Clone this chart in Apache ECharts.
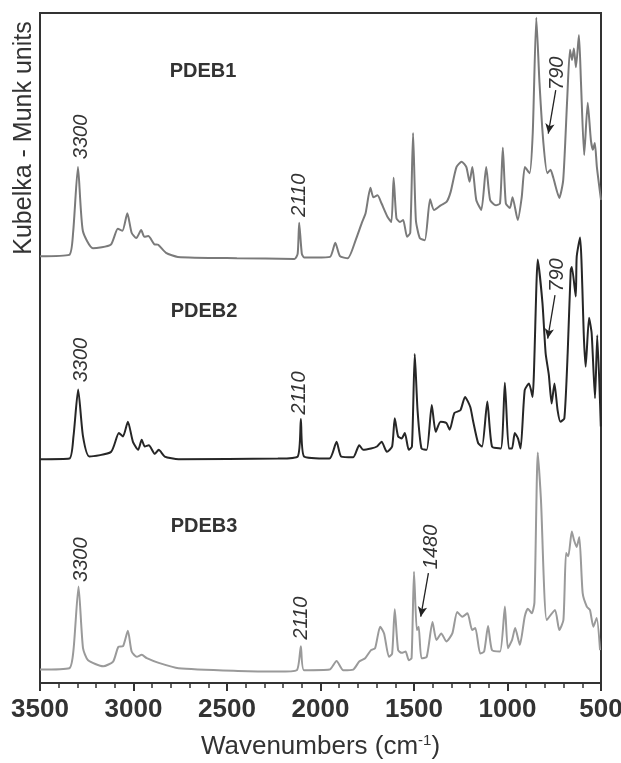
<!DOCTYPE html>
<html>
<head>
<meta charset="utf-8">
<script src="https://cdn.jsdelivr.net/npm/echarts@6/dist/echarts.min.js"></script>
<style>
  html, body { margin: 0; padding: 0; background: #fff; }
  #chart { width: 621px; height: 763px; }
</style>
</head>
<body>
<div id="chart"></div>
<script>
// wavenumber (cm-1), Kubelka-Munk intensity (stacked, arbitrary units 0-100)
const pdeb1 = [
  [3500,63.7],[3344,63.9],[3323,67.2],[3297,77.0],[3271,67.5],[3217,64.9],[3122,65.4],[3084,67.8],
  [3059,67.5],[3033,70.1],[3010,67.2],[2985,66.4],[2959,67.6],[2942,66.6],[2921,66.7],[2889,65.5],
  [2868,65.4],[2826,64.2],[2763,63.6],[2447,63.4],[2139,63.3],[2122,64.1],[2114,68.7],[2100,64.1],
  [2087,63.5],[2023,63.5],[1949,63.6],[1921,65.7],[1896,63.7],[1854,63.4],[1812,66.1],[1780,68.6],
  [1759,70.1],[1733,73.9],[1717,72.5],[1695,72.8],[1674,71.6],[1642,69.6],[1621,68.8],[1609,75.4],
  [1594,69.4],[1575,68.8],[1558,69.1],[1537,66.6],[1520,67.2],[1505,82.1],[1490,69.1],[1469,66.4],
  [1442,66.1],[1414,72.2],[1393,70.6],[1357,71.3],[1326,71.8],[1304,73.3],[1273,77.0],[1245,77.8],
  [1220,77.0],[1203,74.8],[1188,77.0],[1167,72.1],[1140,70.6],[1114,77.0],[1093,72.1],[1062,71.3],
  [1040,71.6],[1025,79.9],[1009,71.6],[987,70.9],[973,72.5],[945,69.1],[924,72.5],[907,77.0],
  [882,76.1],[865,82.1],[846,99.3],[829,89.6],[808,80.6],[787,76.1],[770,76.6],[755,75.4],
  [723,72.4],[702,75.1],[681,87.0],[666,94.5],[655,93.0],[645,94.7],[634,91.9],[618,96.7],
  [607,89.6],[590,78.8],[571,86.6],[554,81.0],[543,79.6],[533,80.6],[522,77.0],[500,72.1]
]
const pdeb2 = [
  [3500,33.4],[3343,33.5],[3321,36.8],[3296,43.8],[3270,36.8],[3236,33.8],[3120,34.5],[3078,37.3],
  [3056,36.8],[3030,39.0],[3003,36.0],[2975,34.8],[2956,36.3],[2940,35.3],[2918,35.5],[2886,34.2],
  [2865,34.8],[2833,33.8],[2759,33.4],[2228,33.5],[2122,33.8],[2105,39.4],[2088,33.8],[1952,33.5],
  [1914,36.0],[1889,33.8],[1825,33.7],[1793,35.5],[1772,34.8],[1730,35.0],[1698,35.3],[1673,36.0],
  [1645,34.5],[1617,35.3],[1603,39.5],[1585,36.8],[1566,36.5],[1549,37.3],[1528,34.8],[1511,35.3],
  [1496,49.1],[1481,40.7],[1460,35.0],[1432,34.8],[1405,41.5],[1384,37.5],[1358,39.0],[1327,38.8],
  [1309,37.8],[1284,40.3],[1252,40.7],[1227,42.7],[1199,41.2],[1184,39.1],[1157,35.8],[1136,35.3],
  [1108,42.0],[1083,35.3],[1036,35.0],[1014,44.8],[993,35.0],[976,35.0],[961,37.3],[944,36.5],
  [930,35.0],[908,43.7],[885,44.7],[866,42.7],[838,63.2],[813,56.7],[796,49.2],[779,46.0],
  [764,41.7],[749,44.7],[732,40.7],[717,39.0],[696,39.5],[678,49.4],[662,61.6],[656,62.1],
  [635,57.7],[630,63.6],[612,66.5],[591,51.2],[582,47.2],[564,54.5],[550,52.2],[532,42.5],
  [520,51.9],[501,38.3]
]
const pdeb3 = [
  [3500,2.0],[3343,2.2],[3321,4.9],[3294,14.4],[3270,5.2],[3243,3.4],[3162,2.5],[3109,3.2],
  [3081,5.4],[3056,5.5],[3030,7.8],[3010,4.7],[2982,3.9],[2956,4.2],[2929,3.7],[2865,3.0],
  [2759,2.2],[2441,1.8],[2228,1.7],[2127,1.9],[2105,5.5],[2088,1.9],[1952,2.0],[1914,3.3],
  [1878,1.9],[1825,2.0],[1793,3.2],[1761,3.7],[1730,4.9],[1708,5.2],[1681,8.4],[1660,7.4],
  [1634,3.9],[1617,4.4],[1603,11.0],[1585,4.9],[1566,4.5],[1545,4.7],[1528,3.4],[1513,3.7],
  [1500,16.6],[1485,7.9],[1475,8.4],[1460,3.7],[1432,3.9],[1401,9.1],[1380,6.4],[1354,7.4],
  [1327,6.2],[1295,7.4],[1269,10.6],[1242,9.9],[1214,10.4],[1189,7.9],[1172,8.2],[1146,4.4],
  [1125,4.7],[1104,8.5],[1083,4.9],[1040,4.7],[1014,11.4],[998,5.2],[976,6.4],[959,8.2],
  [934,5.7],[908,9.9],[891,11.1],[870,10.4],[856,12.0],[838,34.4],[821,27.3],[790,9.4],
  [746,10.9],[723,7.9],[701,9.4],[687,19.4],[675,18.9],[656,22.6],[644,21.3],[630,20.3],
  [616,21.8],[598,13.4],[576,11.4],[559,10.9],[541,8.4],[523,9.7],[505,4.9]
]

const seriesNames = ['PDEB1', 'PDEB2', 'PDEB3']
const seriesColors = ['#7a7a7a', '#262626', '#9a9a9a']
const xTicks = [3500, 3000, 2500, 2000, 1500, 1000, 500]

// [text, wavenumber, value, rotate]
const notes1 = [['PDEB1', 2628, 91.3, 0], ['3300', 3278, 81.5, 90], ['2110', 2115, 72.8, 90], ['790', 735, 91.0, 90]]
const notes2 = [['PDEB2', 2623, 55.4, 0], ['3300', 3281, 48.2, 90], ['2110', 2115, 43.3, 90], ['790', 732, 60.9, 90]]
const notes3 = [['PDEB3', 2623, 23.4, 0], ['3300', 3281, 18.4, 90], ['2110', 2104, 9.7, 90], ['1480', 1406, 20.3, 90]]
// arrows [from, to]
const arrows1 = [[[742, 88.5], [782, 82.0]]]
const arrows2 = [[[746, 57.9], [785, 51.4]]]
const arrows3 = [[[1423, 16.4], [1464, 9.9]]]

function notePoints (notes) {
  return notes.map(n => {
    let bold = n[3] === 0
    return {
      coord: [n[1], n[2]],
      label: {
        show: true,
        position: 'inside',
        formatter: n[0],
        rotate: n[3],
        color: '#333',
        fontFamily: 'Liberation Sans',
        fontSize: 20,
        fontWeight: bold ? 'bold' : 'normal',
        fontStyle: bold ? 'normal' : 'italic'
      }
    }
  })
}

function buildSeries (name, data, color, notes, arrows) {
  return {
    name,
    type: 'line',
    data,
    showSymbol: false,
    symbol: 'none',
    smooth: 0.2,
    lineStyle: { color, width: 2 },
    itemStyle: { color },
    animation: false,
    markPoint: {
      symbol: 'circle',
      symbolSize: 0,
      silent: true,
      data: notePoints(notes)
    },
    markLine: {
      silent: true,
      symbol: ['none', 'arrow'],
      symbolSize: [7, 10],
      label: { show: false },
      lineStyle: { color: '#222', width: 1.3, type: 'solid' },
      data: arrows.map(a => [{ coord: a[0] }, { coord: a[1] }])
    }
  }
}

let chart = echarts.init(document.getElementById('chart'), null, { renderer: 'canvas' })
chart.setOption({
  animation: false,
  backgroundColor: '#fff',
  grid: {
    left: 40, right: 20, top: 13, bottom: 80,
    outerBoundsMode: 'none',
    containLabel: false,
    show: true, borderColor: '#333', borderWidth: 2
  },
  xAxis: {
    type: 'value',
    inverse: true,
    min: 500,
    max: 3500,
    interval: 500,
    name: 'Wavenumbers (cm{sup|-1})',
    nameLocation: 'middle',
    nameGap: 50,
    nameTextStyle: {
      color: '#333',
      fontFamily: 'Liberation Sans',
      fontSize: 26,
      rich: {
        sup: { fontSize: 15, color: '#333', fontFamily: 'Liberation Sans', verticalAlign: 'top', padding: [0, 0, 12, 0] }
      }
    },
    axisLine: { show: true, onZero: false, lineStyle: { color: '#333', width: 2 } },
    axisTick: { show: true, inside: false, length: 8, lineStyle: { color: '#333', width: 2 } },
    minorTick: { show: true, splitNumber: 5, length: 5, lineStyle: { color: '#333', width: 1.5 } },
    splitLine: { show: false },
    axisLabel: {
      color: '#333',
      fontFamily: 'Liberation Sans',
      fontSize: 26,
      fontWeight: 'bold',
      margin: 14,
      hideOverlap: false,
      formatter: v => xTicks.indexOf(v) >= 0 ? String(v) : ''
    }
  },
  yAxis: {
    type: 'value',
    min: 0,
    max: 100,
    axisLine: { show: true, lineStyle: { color: '#333', width: 2 } },
    axisTick: { show: false },
    axisLabel: { show: false },
    splitLine: { show: false }
  },
  graphic: [{
    type: 'text',
    x: 24,
    y: 138,
    rotation: Math.PI / 2,
    style: {
      text: 'Kubelka - Munk units',
      fill: '#333',
      font: '25px "Liberation Sans"',
      align: 'center',
      verticalAlign: 'middle'
    }
  }],
  series: [
    buildSeries(seriesNames[0], pdeb1, seriesColors[0], notes1, arrows1),
    buildSeries(seriesNames[1], pdeb2, seriesColors[1], notes2, arrows2),
    buildSeries(seriesNames[2], pdeb3, seriesColors[2], notes3, arrows3)
  ]
})
</script>
</body>
</html>
